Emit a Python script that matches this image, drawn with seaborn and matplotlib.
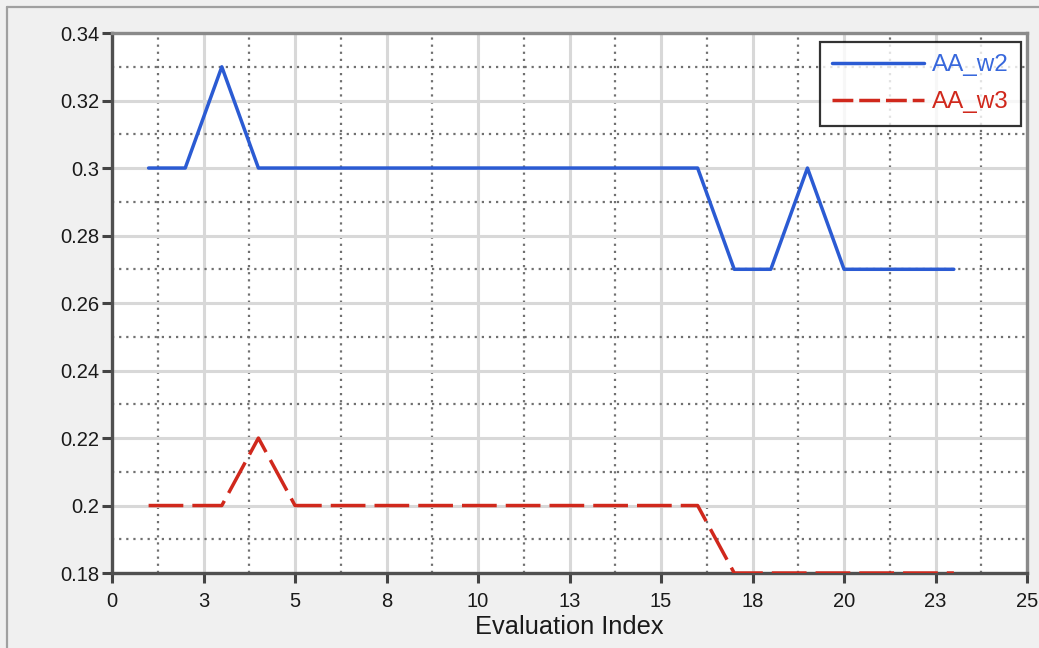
import numpy as np
import pandas as pd
import matplotlib
matplotlib.use("Agg")
import matplotlib.pyplot as plt
from matplotlib.lines import Line2D
from matplotlib.ticker import FixedLocator, FixedFormatter, MultipleLocator, FormatStrFormatter
import seaborn as sns

# Evaluation history of the two design variables
eval_index = list(range(1, 24))
aa_w2 = [0.30, 0.30, 0.33, 0.30, 0.30, 0.30, 0.30, 0.30, 0.30, 0.30, 0.30, 0.30,
         0.30, 0.30, 0.30, 0.30, 0.27, 0.27, 0.30, 0.27, 0.27, 0.27, 0.27]
aa_w3 = [0.20, 0.20, 0.20, 0.22, 0.20, 0.20, 0.20, 0.20, 0.20, 0.20, 0.20, 0.20,
         0.20, 0.20, 0.20, 0.20, 0.18, 0.18, 0.18, 0.18, 0.18, 0.18, 0.18]

x_ticks = [0, 2.5, 5, 7.5, 10, 12.5, 15, 17.5, 20, 22.5, 25]
x_tick_labels = ["0", "3", "5", "8", "10", "13", "15", "18", "20", "23", "25"]

sns.set_style("white")
plt.rcParams["font.family"] = ["Liberation Sans", "DejaVu Sans"]

df = pd.DataFrame({"idx": eval_index, "AA_w2": aa_w2, "AA_w3": aa_w3})

fig = plt.figure(figsize=(10.39, 6.48), dpi=100, facecolor="#f0f0f0")
ax = fig.add_axes([0.1078, 0.1157, 0.8807, 0.8333])
ax.set_facecolor("white")

blue = "#2b5bd3"
red = "#d0281c"

sns.lineplot(data=df, x="idx", y="AA_w2", ax=ax, color=blue, linewidth=2.5,
             label="AA_w2", zorder=5)
sns.lineplot(data=df, x="idx", y="AA_w3", ax=ax, color=red, linewidth=2.5,
             label="AA_w3", zorder=5)
ax.lines[1].set_dashes((10, 2.6))

ax.set_xlim(0, 25)
ax.set_ylim(0.18, 0.34)

# Major and minor ticks/grids
ax.xaxis.set_major_locator(FixedLocator(x_ticks))
ax.xaxis.set_major_formatter(FixedFormatter(x_tick_labels))
ax.xaxis.set_minor_locator(MultipleLocator(1.25))
ax.yaxis.set_major_locator(MultipleLocator(0.02))
ax.yaxis.set_major_formatter(FormatStrFormatter("%g"))
ax.yaxis.set_minor_locator(MultipleLocator(0.01))

ax.grid(which="major", color="#d8d8d8", linewidth=2.2, linestyle="-", zorder=0)
ax.grid(which="minor", color="#707070", linewidth=1.6, linestyle=(0, (1, 2.2)), zorder=1)
ax.set_axisbelow(True)

ax.tick_params(axis="both", which="major", direction="out", length=7, width=2.2,
               color="#444444", labelsize=14.5, labelcolor="#1a1a1a",
               bottom=True, left=True)
ax.tick_params(axis="x", which="major", pad=7)
ax.tick_params(axis="y", which="major", pad=2)
ax.tick_params(axis="both", which="minor", length=0)

for side in ["left", "bottom"]:
    ax.spines[side].set_color("#505050")
    ax.spines[side].set_linewidth(2.4)
for side in ["top", "right"]:
    ax.spines[side].set_color("#8a8a8a")
    ax.spines[side].set_linewidth(2.4)

ax.set_xlabel("Evaluation Index", fontsize=18.3, color="#1a1a1a", labelpad=2.5)
ax.set_ylabel("")

leg = ax.legend(loc="upper right", bbox_to_anchor=(0.993, 0.983), fontsize=17.5,
                handlelength=3.8, handletextpad=0.3, borderpad=0.5,
                labelspacing=0.62, frameon=True, fancybox=False, borderaxespad=0)
leg.get_frame().set_edgecolor("black")
leg.get_frame().set_linewidth(1.6)
leg.get_lines()[1].set_dashes((6, 1.7))
for txt, c in zip(leg.get_texts(), ["#3868dc", red]):
    txt.set_color(c)

# Outer panel border (left and top edges)
fig.add_artist(Line2D([6.5 / 1039, 6.5 / 1039], [0, 1 - 6.5 / 648],
                      transform=fig.transFigure, color="#a0a0a0", linewidth=1.6))
fig.add_artist(Line2D([6.5 / 1039, 1], [1 - 6.5 / 648, 1 - 6.5 / 648],
                      transform=fig.transFigure, color="#a0a0a0", linewidth=1.6))

fig.savefig("out.png", dpi=100, facecolor=fig.get_facecolor())
